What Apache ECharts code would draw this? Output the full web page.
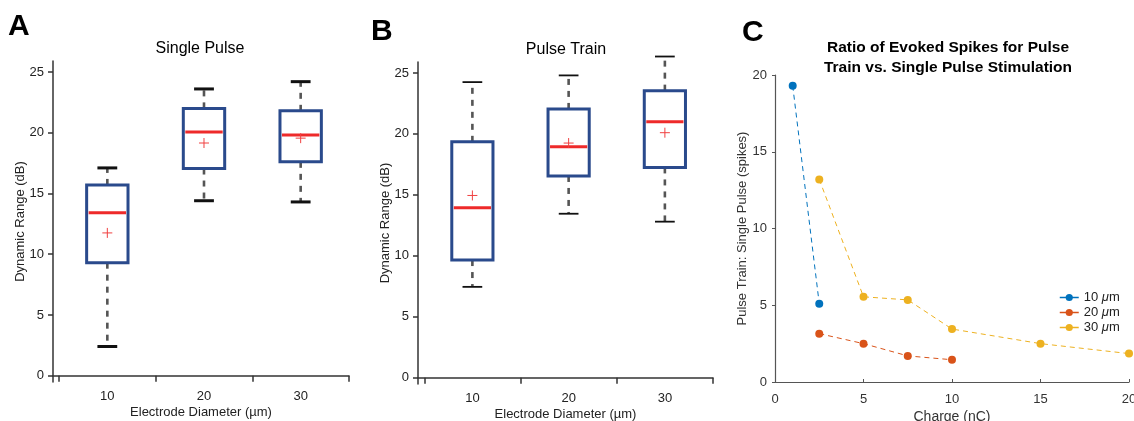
<!DOCTYPE html>
<html>
<head>
<meta charset="utf-8">
<script src="https://cdn.jsdelivr.net/npm/echarts@6/dist/echarts.min.js"></script>
<style>
  html, body { margin: 0; padding: 0; background: #fff; }
  #chart { width: 1134px; height: 421px; }
</style>
</head>
<body>
<div id="chart"></div>
<script>
// electrode diameters (um)
const diameters = [10, 20, 30]
const yTicks = [0, 5, 10, 15, 20, 25]
const xTicks = [5, 15, 25, 35]

// A: single pulse dynamic range (dB)
const singleMin = [2.4, 14.4, 14.3]
const singleQ1 = [9.3, 17.05, 17.6]
const singleMed = [13.4, 20.05, 19.8]
const singleQ3 = [15.7, 22.0, 21.8]
const singleMax = [17.1, 23.6, 24.2]
const singleMean = [11.75, 19.15, 19.55]

// B: pulse train dynamic range (dB)
const trainMin = [7.45, 13.45, 12.8]
const trainQ1 = [9.65, 16.55, 17.25]
const trainMed = [13.95, 18.95, 21.0]
const trainQ3 = [19.35, 22.05, 23.55]
const trainMax = [24.25, 24.8, 26.35]
const trainMean = [14.95, 19.25, 20.1]

// C: ratio of evoked spikes vs charge (nC)
const charge10 = [1, 2.5]
const ratio10 = [19.3, 5.1]
const charge20 = [2.5, 5, 7.5, 10]
const ratio20 = [3.15, 2.5, 1.7, 1.45]
const charge30 = [2.5, 5, 7.5, 10, 15, 20]
const ratio30 = [13.2, 5.55, 5.35, 3.45, 2.5, 1.85]

const FONT = 'Liberation Sans, Arial, sans-serif'
const BOX = '#2a4a8c'
const MED = '#ee2a2a'

function boxRows(mn, q1, md, q3, mx, mean) {
  return diameters.map((d, i) => [d, mn[i], q1[i], md[i], q3[i], mx[i], mean[i]])
}

function makeBoxRender(capWidth) {
  return function (params, api) {
    const x = api.value(0)
    const p = (v) => api.coord([x, v])
    const cx = p(0)[0]
    const half = api.size([4.28, 0])[0] / 2
    const capHalf = api.size([2.05, 0])[0] / 2
    const yMin = p(api.value(1))[1]
    const yQ1 = p(api.value(2))[1]
    const yMed = p(api.value(3))[1]
    const yQ3 = p(api.value(4))[1]
    const yMax = p(api.value(5))[1]
    const yMean = p(api.value(6))[1]
    const dash = { stroke: '#555', lineWidth: 2.6, lineDash: [6, 6] }
    const cap = { stroke: '#111', lineWidth: capWidth }
    return {
      type: 'group',
      children: [
        { type: 'line', shape: { x1: cx, y1: yQ3, x2: cx, y2: yMax }, style: dash },
        { type: 'line', shape: { x1: cx, y1: yQ1, x2: cx, y2: yMin }, style: dash },
        { type: 'line', shape: { x1: cx - capHalf, y1: yMax, x2: cx + capHalf, y2: yMax }, style: cap },
        { type: 'line', shape: { x1: cx - capHalf, y1: yMin, x2: cx + capHalf, y2: yMin }, style: cap },
        {
          type: 'rect',
          shape: { x: cx - half, y: yQ3, width: half * 2, height: yQ1 - yQ3 },
          style: { fill: '#fff', stroke: BOX, lineWidth: 3 }
        },
        { type: 'line', shape: { x1: cx - half + 2, y1: yMed, x2: cx + half - 2, y2: yMed }, style: { stroke: MED, lineWidth: 3 } },
        { type: 'line', shape: { x1: cx - 5, y1: yMean, x2: cx + 5, y2: yMean }, style: { stroke: '#f04040', lineWidth: 1 } },
        { type: 'line', shape: { x1: cx, y1: yMean - 5, x2: cx, y2: yMean + 5 }, style: { stroke: '#f04040', lineWidth: 1 } }
      ]
    }
  }
}

function boxXAxis(idx, min, gap) {
  return {
    type: 'value', gridIndex: idx, min: min, max: 35,
    axisLine: { show: true, lineStyle: { color: '#333', width: 1.5 } },
    axisTick: { show: true, customValues: xTicks, length: 6, lineStyle: { color: '#333', width: 1.5 } },
    axisLabel: { customValues: diameters, margin: 8, fontSize: 13, color: '#222', fontFamily: FONT },
    splitLine: { show: false },
    name: 'Electrode Diameter (µm)', nameLocation: 'middle', nameGap: gap, nameMoveOverlap: false,
    nameTextStyle: { fontSize: 13, color: '#222', fontFamily: FONT }
  }
}

function boxYAxis(idx) {
  return {
    type: 'value', gridIndex: idx, min: -0.52, max: 25.9,
    axisLine: { show: true, lineStyle: { color: '#333', width: 1.5 } },
    axisTick: { show: true, customValues: yTicks, length: 5, lineStyle: { color: '#333', width: 1.5 } },
    axisLabel: { customValues: yTicks, margin: 9, fontSize: 13, color: '#222', fontFamily: FONT },
    splitLine: { show: false },
    name: 'Dynamic Range (dB)', nameLocation: 'middle', nameGap: 26, nameMoveOverlap: false,
    nameTextStyle: { fontSize: 13, color: '#222', fontFamily: FONT }
  }
}

function lineSeries(name, xs, ys, color) {
  return {
    type: 'line', name: name, xAxisIndex: 2, yAxisIndex: 2,
    data: xs.map((x, i) => [x, ys[i]]),
    symbol: 'circle', symbolSize: 8,
    itemStyle: { color: color },
    lineStyle: { color: color, width: 1, type: [5, 4] },
    clip: false
  }
}

const chart = echarts.init(document.getElementById('chart'), null, { renderer: 'canvas' })

const titleText = (text, x, y, size, bold) => ({
  type: 'text', x: x, y: y,
  style: { text: text, fill: '#000', font: (bold ? 'bold ' : '') + size + 'px ' + FONT, textAlign: 'center', textVerticalAlign: 'middle' }
})
const letter = (text, x, y) => ({
  type: 'text', x: x, y: y,
  style: { text: text, fill: '#000', font: 'bold 30px ' + FONT, textVerticalAlign: 'middle' }
})

chart.setOption({
  animation: false,
  textStyle: { fontFamily: FONT },
  graphic: [
    letter('A', 8, 27),
    letter('B', 371, 32),
    letter('C', 742, 33),
    titleText('Single Pulse', 200, 49, 16, false),
    titleText('Pulse Train', 566, 50, 16, false),
    titleText('Ratio of Evoked Spikes for Pulse', 948, 48, 15.5, true),
    titleText('Train vs. Single Pulse Stimulation', 948, 68, 15.5, true)
  ],
  grid: [
    { left: 53, right: 785, top: 61, bottom: 39, outerBoundsMode: 'none', containLabel: false },
    { left: 418, right: 421, top: 62, bottom: 37, outerBoundsMode: 'none', containLabel: false },
    { left: 775, right: 5, top: 75, bottom: 39, outerBoundsMode: 'none', containLabel: false }
  ],
  xAxis: [
    boxXAxis(0, 4.38, 24),
    boxXAxis(1, 4.35, 24),
    {
      type: 'value', gridIndex: 2, min: 0, max: 20, interval: 5,
      axisLine: { show: true, lineStyle: { color: '#555', width: 1.2 } },
      axisTick: { show: true, inside: true, length: 3, lineStyle: { color: '#555' } },
      axisLabel: { margin: 11, fontSize: 13, color: '#333', fontFamily: FONT },
      splitLine: { show: false },
      name: 'Charge (nC)', nameLocation: 'middle', nameGap: 28, nameMoveOverlap: false,
      nameTextStyle: { fontSize: 14, color: '#333', fontFamily: FONT }
    }
  ],
  yAxis: [
    boxYAxis(0),
    boxYAxis(1),
    {
      type: 'value', gridIndex: 2, min: 0, max: 20, interval: 5,
      axisLine: { show: true, lineStyle: { color: '#555', width: 1.2 } },
      axisTick: { show: true, length: 3, lineStyle: { color: '#555' } },
      axisLabel: { margin: 8, fontSize: 13, color: '#333', fontFamily: FONT },
      splitLine: { show: false },
      name: 'Pulse Train: Single Pulse (spikes)', nameLocation: 'middle', nameGap: 26, nameMoveOverlap: false,
      nameTextStyle: { fontSize: 13, color: '#333', fontFamily: FONT }
    }
  ],
  legend: {
    data: ['10 μm', '20 μm', '30 μm'],
    orient: 'vertical', left: 1059, top: 291, padding: 0,
    itemWidth: 19, itemHeight: 9, itemGap: 2,
    lineStyle: { type: 'solid', width: 1.5 },
    formatter: (name) => '{n|' + name.split(' ')[0] + ' }{i|μ}{n|m}',
    textStyle: {
      rich: {
        n: { fontSize: 13, color: '#222', fontFamily: FONT },
        i: { fontSize: 13, color: '#222', fontStyle: 'italic', fontFamily: FONT }
      }
    }
  },
  series: [
    {
      type: 'custom', xAxisIndex: 0, yAxisIndex: 0, clip: false,
      renderItem: makeBoxRender(3),
      data: boxRows(singleMin, singleQ1, singleMed, singleQ3, singleMax, singleMean)
    },
    {
      type: 'custom', xAxisIndex: 1, yAxisIndex: 1, clip: false,
      renderItem: makeBoxRender(1.8),
      data: boxRows(trainMin, trainQ1, trainMed, trainQ3, trainMax, trainMean)
    },
    lineSeries('10 μm', charge10, ratio10, '#0072bd'),
    lineSeries('20 μm', charge20, ratio20, '#d95319'),
    lineSeries('30 μm', charge30, ratio30, '#edb120')
  ]
})
</script>
</body>
</html>
